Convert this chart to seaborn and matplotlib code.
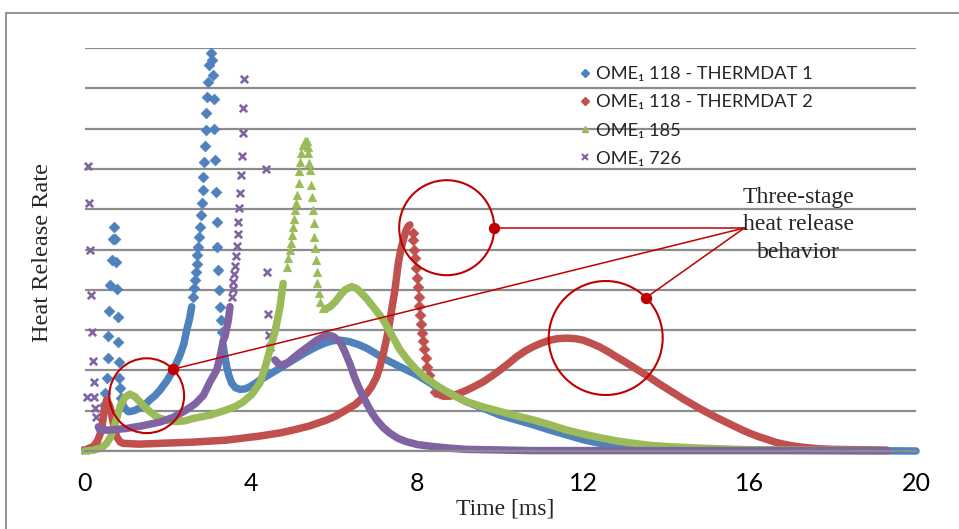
import numpy as np
import matplotlib
matplotlib.use("Agg")
import matplotlib.pyplot as plt
import seaborn as sns
from matplotlib.patches import Ellipse, Rectangle
from matplotlib.lines import Line2D

# ---------------- data (time in ms, heat release rate in arbitrary units) ----------------
labels = ["OME\u2081 118 - THERMDAT 1", "OME\u2081 118 - THERMDAT 2", "OME\u2081 185", "OME\u2081 726"]
x_ticks = [0, 4, 8, 12, 16, 20]

blue_t = [0.00, 0.30,
          0.464, 0.481, 0.522, 0.546, 0.561, 0.585, 0.602, 0.643, 0.667, 0.690,
          0.722, 0.739, 0.763, 0.787, 0.801, 0.818, 0.826, 0.842, 0.866,
          0.883, 0.95, 1.042, 1.18, 1.324, 1.45, 1.564, 1.69, 1.805, 1.97, 2.125, 2.286, 2.38,
          2.448, 2.52, 2.568,
          2.607, 2.623, 2.647, 2.664, 2.688, 2.703, 2.727, 2.744, 2.761, 2.785, 2.809, 2.833,
          2.847, 2.871, 2.881, 2.905, 2.912, 2.936, 2.953, 2.984, 3.025,
          3.064, 3.088, 3.105, 3.112, 3.129, 3.153, 3.170, 3.184, 3.208, 3.225, 3.242, 3.266, 3.290,
          3.329, 3.37, 3.410, 3.46, 3.531, 3.62, 3.730, 3.85, 3.98, 4.212, 4.60, 5.013, 5.30,
          5.576, 5.78, 5.976, 6.18, 6.378, 6.58, 6.780, 6.98, 7.180, 7.581, 7.983, 8.383, 8.785,
          9.186, 9.586, 9.988, 10.39, 10.79, 11.19, 11.59, 11.99, 12.39, 12.80, 13.40, 14.80, 20.00]
blue_v = [0.02, 0.15,
          1.14, 1.43, 1.80, 2.30, 2.85, 3.47, 4.11, 4.74, 5.25, 5.55,
          5.25, 4.70, 4.01, 3.33, 2.71, 2.20, 1.82, 1.56, 1.31,
          1.22, 1.07, 0.975, 1.00, 1.07, 1.16, 1.27, 1.38, 1.51, 1.74, 2.01, 2.38, 2.66,
          3.00, 3.30, 3.58,
          3.83, 4.04, 4.24, 4.45, 4.64, 4.86, 5.07, 5.32, 5.57, 5.86, 6.15, 6.48,
          6.81, 7.18, 7.57, 7.97, 8.38, 8.78, 9.16, 9.58, 9.87,
          9.70, 9.33, 8.73, 7.98, 7.22, 6.43, 5.69, 5.05, 4.49, 4.00, 3.58, 3.25, 2.96,
          2.60, 2.32, 2.09, 1.88, 1.68, 1.57, 1.53, 1.54, 1.60, 1.76, 2.00, 2.26, 2.44,
          2.59, 2.68, 2.74, 2.745, 2.71, 2.64, 2.55, 2.43, 2.30, 2.09, 1.89, 1.64, 1.43,
          1.22, 1.06, 0.89, 0.77, 0.65, 0.52, 0.40, 0.28, 0.19, 0.12, 0.07, 0.03, 0.00]
blue_sparse = [(0.45, 0.87), (2.60, 3.30)]

red_t = [0.00, 0.20, 0.30, 0.40, 0.464, 0.522, 0.602, 0.681, 0.763, 0.85, 0.922, 1.30, 1.805,
         2.60, 3.41, 4.20, 4.70, 5.01, 5.40, 5.82, 6.02, 6.22, 6.50, 6.66, 6.78, 6.90, 7.02,
         7.10, 7.18, 7.24, 7.30, 7.38, 7.46, 7.54, 7.60, 7.66, 7.73, 7.78, 7.82,
         7.887, 7.901, 7.925, 7.942, 7.966, 7.990, 8.007, 8.031, 8.046, 8.063, 8.080, 8.104,
         8.128, 8.159, 8.200, 8.238, 8.287, 8.344, 8.424,
         8.52, 8.62, 8.78, 8.98, 9.19, 9.39, 9.59, 9.79, 9.99, 10.19, 10.39, 10.59, 10.79,
         10.99, 11.19, 11.39, 11.59, 11.79, 11.99, 12.19, 12.39, 12.60, 12.80, 13.00, 13.20,
         13.40, 13.60, 13.80, 14.00, 14.20, 14.40, 14.60, 14.80, 15.00, 15.20, 15.40, 15.60,
         15.80, 16.00, 16.20, 16.41, 16.61, 16.81, 17.01, 17.21, 17.60, 18.01, 19.29]
red_v = [0.02, 0.11, 0.25, 0.52, 1.02, 1.27, 1.10, 0.69, 0.35, 0.22, 0.19, 0.17, 0.19,
         0.22, 0.27, 0.37, 0.45, 0.52, 0.62, 0.77, 0.86, 0.98, 1.15, 1.30, 1.43, 1.60, 1.84,
         2.10, 2.42, 2.70, 3.00, 3.50, 4.00, 4.66, 4.99, 5.24, 5.48, 5.58, 5.61,
         5.40, 5.24, 4.99, 4.78, 4.53, 4.29, 4.06, 3.83, 3.60, 3.37, 3.15, 2.94,
         2.73, 2.52, 2.30, 2.09, 1.89, 1.68, 1.47,
         1.40, 1.36, 1.36, 1.42, 1.51, 1.61, 1.72, 1.86, 2.01, 2.17, 2.34, 2.48, 2.59,
         2.68, 2.75, 2.79, 2.80, 2.79, 2.75, 2.67, 2.58, 2.46, 2.33, 2.21, 2.08,
         1.95, 1.82, 1.68, 1.55, 1.42, 1.29, 1.17, 1.05, 0.94, 0.83, 0.73, 0.63,
         0.53, 0.44, 0.36, 0.29, 0.22, 0.17, 0.13, 0.10, 0.06, 0.04, 0.02]
red_sparse = [(7.85, 8.43)]

green_t = [0.00, 0.20, 0.40, 0.52, 0.60, 0.68, 0.76, 0.84, 0.96, 1.08, 1.20, 1.32, 1.44, 1.56,
           1.68, 1.81, 2.00, 2.21, 2.41, 2.61, 3.01, 3.41, 3.61, 3.81, 4.01, 4.21, 4.33, 4.45,
           4.57, 4.69, 4.77,
           4.85, 4.89, 4.93, 4.96, 4.99, 5.01, 5.04, 5.05, 5.08, 5.10, 5.14, 5.16, 5.18, 5.21,
           5.25, 5.30, 5.34, 5.36, 5.37, 5.39, 5.41, 5.45, 5.46, 5.48, 5.50, 5.52, 5.54, 5.56,
           5.58, 5.59, 5.62, 5.66, 5.74,
           5.80, 5.90, 6.02, 6.14, 6.26, 6.42, 6.54, 6.66, 6.78, 6.98, 7.18, 7.38, 7.58, 7.78,
           7.98, 8.18, 8.38, 8.58, 8.78, 9.19, 9.59, 9.99, 10.39, 10.79, 11.19, 11.59, 11.99,
           12.39, 12.80, 13.20, 13.60, 14.00, 14.80, 16.00, 19.28]
green_v = [0.00, 0.02, 0.08, 0.19, 0.32, 0.52, 0.80, 1.10, 1.33, 1.41, 1.35, 1.22, 1.09, 0.98,
           0.88, 0.81, 0.76, 0.73, 0.75, 0.81, 0.89, 1.02, 1.10, 1.22, 1.40, 1.69, 2.06, 2.51,
           2.95, 3.55, 4.16,
           4.57, 4.78, 4.99, 5.15, 5.36, 5.57, 5.76, 5.97, 6.15, 6.36, 6.65, 6.94, 7.16, 7.39,
           7.60, 7.70, 7.70, 7.55, 7.39, 7.14, 6.97, 6.60, 6.31, 5.98, 5.65, 5.32, 5.03, 4.74,
           4.45, 4.16, 3.91, 3.70, 3.56,
           3.53, 3.58, 3.70, 3.86, 4.00, 4.08, 4.03, 3.91, 3.78, 3.52, 3.25, 2.88, 2.51, 2.24,
           2.01, 1.83, 1.68, 1.55, 1.43, 1.22, 1.09, 0.98, 0.87, 0.77, 0.65, 0.52, 0.42,
           0.33, 0.25, 0.19, 0.14, 0.11, 0.07, 0.03, 0.01]
green_sparse = [(4.84, 5.75)]

purple_t = [0.00, 0.04, 0.08, 0.085, 0.12, 0.14, 0.18, 0.19, 0.215, 0.22, 0.24, 0.26,
            0.32, 0.36, 0.60, 1.00, 1.40, 1.81, 2.11, 2.41, 2.65, 2.85, 3.01, 3.10, 3.17, 3.25,
            3.33, 3.37, 3.45, 3.49,
            3.54, 3.55, 3.57, 3.59, 3.60, 3.63, 3.65, 3.68, 3.69, 3.71, 3.74, 3.75, 3.77, 3.80,
            3.81, 3.83, 4.36, 4.39, 4.41, 4.43, 4.45,
            4.57, 4.65, 4.73, 4.89, 5.05, 5.21, 5.37, 5.58, 5.72, 5.86, 5.98, 6.14, 6.26, 6.38,
            6.48, 6.58, 6.68, 6.78, 6.90, 7.02, 7.18, 7.34, 7.54, 7.74, 8.00, 8.38, 8.78, 9.19,
            10.79, 19.33]
purple_v = [0.02, 1.33, 7.07, 6.15, 5.00, 3.87, 2.95, 2.23, 1.70, 1.33, 1.06, 0.85,
            0.60, 0.52, 0.52, 0.56, 0.63, 0.72, 0.83, 1.00, 1.17, 1.38, 1.72, 1.88, 2.01, 2.34,
            2.75, 2.84, 3.25, 3.58,
            3.83, 4.01, 4.20, 4.38, 4.59, 4.84, 5.09, 5.38, 5.67, 6.04, 6.41, 6.85, 7.33, 7.88,
            8.52, 9.23, 7.00, 4.45, 3.39, 2.88, 2.59,
            2.26, 2.17, 2.13, 2.20, 2.34, 2.47, 2.59, 2.75, 2.83, 2.88, 2.84, 2.71, 2.45, 2.15,
            1.85, 1.60, 1.38, 1.18, 0.95, 0.77, 0.58, 0.44, 0.31, 0.23, 0.16, 0.11, 0.07, 0.04,
            0.01, 0.01]
purple_sparse = [(-0.01, 0.27), (3.52, 4.46)]

# ---------------- style ----------------
colors = ["#4F81BD", "#C0504D", "#9BBB59", "#8064A2"]
markers = ["D", "D", "^", "x"]
GRID = "#8c8c8c"
ANN = "#C00000"

sns.set_style("white")
plt.rcParams["font.family"] = ["Lato", "DejaVu Sans"]

W, H = 959, 529
fig = plt.figure(figsize=(W / 100, H / 100), dpi=100)
L, R, B, T = 85, 916, 451, 48
ax = fig.add_axes([L / W, 1 - B / H, (R - L) / W, (B - T) / H])
ax.set_xlim(0, 20)
ax.set_ylim(0, 10)

# grid
ax.set_yticks(np.arange(0, 11, 1))
ax.yaxis.grid(True, color=GRID, lw=1.6)
ax.set_axisbelow(True)
ax.tick_params(axis="y", length=0, labelleft=False)
ax.set_xticks(x_ticks)
ax.set_xticklabels([str(v) for v in x_ticks])
ax.tick_params(axis="x", direction="out", length=7, width=1.5, color=GRID,
               labelsize=18, pad=8, labelcolor="black")
for s in ["top", "right", "left"]:
    ax.spines[s].set_visible(False)
ax.spines["bottom"].set_color(GRID)
ax.spines["bottom"].set_linewidth(1.6)


def draw(t, v, sparse, color, marker):
    t = np.asarray(t, float)
    v = np.asarray(v, float)
    sp = np.zeros(len(t), bool)
    for a, b in sparse:
        sp |= (t >= a) & (t <= b)
    seg = []
    segments = []
    for i in range(len(t)):
        if sp[i]:
            if len(seg) > 1:
                segments.append(seg)
            seg = []
        else:
            seg.append(i)
    if len(seg) > 1:
        segments.append(seg)
    for sg in segments:
        sns.lineplot(x=t[sg], y=v[sg], color=color, linewidth=5.4, estimator=None,
                     sort=False, ax=ax, solid_capstyle="round", clip_on=False)
    if sp.any():
        if marker == "x":
            sns.scatterplot(x=t[sp], y=v[sp], marker="x", s=28, color=color,
                            linewidth=1.9, ax=ax, clip_on=False)
        else:
            sz = 32 if marker == "D" else 40
            sns.scatterplot(x=t[sp], y=v[sp], marker=marker, s=sz, color=color,
                            edgecolor=color, linewidth=0.3, ax=ax, clip_on=False)


draw(blue_t, blue_v, blue_sparse, colors[0], markers[0])
draw(red_t, red_v, red_sparse, colors[1], markers[1])
draw(green_t, green_v, green_sparse, colors[2], markers[2])
draw(purple_t, purple_v, purple_sparse, colors[3], markers[3])

# legend
handles = []
for c, m in zip(colors, markers):
    if m == "x":
        handles.append(Line2D([], [], marker="x", color=c, linestyle="None", markersize=4.5, mew=1.5))
    else:
        handles.append(Line2D([], [], marker=m, color=c, linestyle="None",
                              markersize=4.2 if m == "D" else 5))
leg = ax.legend(handles, labels, loc="upper left",
                bbox_to_anchor=((568 - L) / (R - L), (B - 59) / (B - T)),
                frameon=False, fontsize=13.2, handletextpad=0.15, labelspacing=0.66,
                handlelength=1.0, borderaxespad=0)

# axis labels
ax.set_xlabel("Time [ms]", family="Liberation Serif", fontsize=17)
ax.xaxis.set_label_coords((505 - L) / (R - L), -(509 - B) / (B - T))
ax.xaxis.label.set_va("center")
ax.set_ylabel("")
fig.text(43 / W, 1 - 252 / H, "Heat Release Rate", rotation=90, ha="center", va="center",
         family="Liberation Serif", fontsize=17.5)

# annotations: circles, connector lines, dots, text
pxx = (R - L) / 20.0
pxy = (B - T) / 10.0


def px2d(x, y):
    return (x - L) / pxx, (B - y) / pxy


for cx, cy, r in [(146.7, 395.7, 37.4), (446.7, 227.7, 47.5), (605.7, 338.0, 57.0)]:
    dx, dy = px2d(cx, cy)
    ax.add_patch(Ellipse((dx, dy), 2 * r / pxx, 2 * r / pxy, fill=False,
                         edgecolor=ANN, lw=1.5, zorder=10, clip_on=False))
hub = px2d(744.3, 228)
for x, y in [(172.7, 369.3), (494.3, 228.0), (646.0, 297.7)]:
    d = px2d(x, y)
    ax.plot([hub[0], d[0]], [hub[1], d[1]], color=ANN, lw=1.1, zorder=11, clip_on=False)
    ax.plot([d[0]], [d[1]], marker="o", color=ANN, markersize=7.2, zorder=12, clip_on=False)
tx, ty = px2d(798, 225)
ax.text(tx, ty, "Three-stage\nheat release\nbehavior", ha="center", va="center",
        family="Liberation Serif", fontsize=17, linespacing=1.38, zorder=12)

# outer frame of the figure
fig.patches.append(Rectangle((5.5 / W, -0.1), 1.2, 1.1 - 13.5 / H, transform=fig.transFigure,
                             fill=False, edgecolor="#8a8a8a", lw=1.3))

fig.savefig("out.png", dpi=100)
